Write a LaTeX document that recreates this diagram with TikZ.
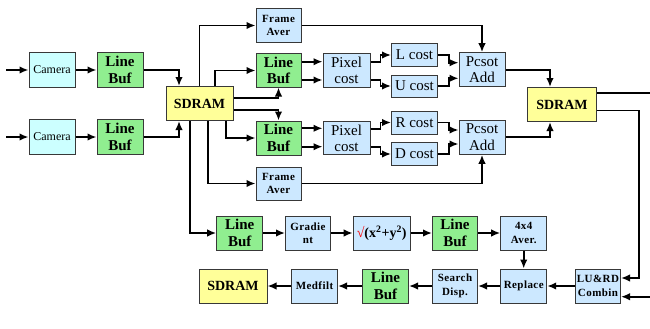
\documentclass[tikz,border=0pt]{standalone}
\usepackage{fontspec}
\setmainfont{Liberation Serif}
\usetikzlibrary{arrows.meta}
\definecolor{cyanfill}{HTML}{CCFFFF}
\definecolor{greenfill}{HTML}{90EE90}
\definecolor{bluefill}{HTML}{CCE8FF}
\definecolor{yellowfill}{HTML}{FFFF99}
\definecolor{boxline}{HTML}{383838}
\newcommand{\bigtxt}{\fontsize{15}{16.5}\selectfont}
\newcommand{\smalltxt}{\fontsize{11}{13.5}\selectfont\bfseries\addfontfeature{LetterSpace=4}}
\begin{document}
\begin{tikzpicture}[x=1pt,y=-1pt,
  box/.style={draw=boxline, line width=1pt, rectangle, inner sep=0pt, align=center},
  cam/.style={box, fill=cyanfill, minimum width=46pt, minimum height=35pt, font=\fontsize{12}{14}\selectfont},
  lbuf/.style={box, fill=greenfill, minimum width=46pt, minimum height=34pt, font=\bigtxt\bfseries},
  sdram/.style={box, fill=yellowfill, minimum width=68pt, minimum height=34pt, font=\fontsize{14}{16}\selectfont\bfseries},
  small/.style={box, fill=bluefill, minimum width=45pt, minimum height=34pt, font=\smalltxt},
  bigb/.style={box, fill=bluefill, minimum width=46pt, minimum height=34pt, font=\bigtxt},
  cost/.style={box, fill=bluefill, minimum width=46pt, minimum height=23pt, font=\bigtxt},
  arr/.style={line width=1.7pt, -{Latex[length=9pt,width=7.5pt]}},
  ln/.style={line width=1.7pt}]
\useasboundingbox (0,0) rectangle (650,329);

% nodes
\node[cam] (cam1) at (52,70) {Camera};
\node[cam] (cam2) at (52,137) {Camera};
\node[lbuf, minimum height=35pt] (lb1) at (120,70) {Line\\Buf};
\node[lbuf, minimum height=35pt] (lb2) at (120,137) {Line\\Buf};
\node[sdram, minimum width=67pt] (sd1) at (199.5,103.5) {SDRAM};
\node[small] (fa1) at (278.5,25.5) {Frame\\Aver};
\node[lbuf, minimum width=45pt, minimum height=33pt] (lb3) at (278.5,70.5) {Line\\Buf};
\node[lbuf, minimum width=45pt] (lb4) at (278.5,138) {Line\\Buf};
\node[small, minimum height=33pt] (fa2) at (278.5,183.5) {Frame\\Aver};
\node[bigb, minimum width=47pt, minimum height=33pt] (pc1) at (346.5,70.5) {Pixel\\cost};
\node[bigb, minimum width=47pt, minimum height=33pt] (pc2) at (346.5,138.3) {Pixel\\cost};
\node[cost] (lc) at (414.5,55) {L cost};
\node[cost, minimum height=22pt] (uc) at (414.5,86) {U cost};
\node[cost] (rc) at (414.5,122.5) {R cost};
\node[cost] (dc) at (414.5,154) {D cost};
\node[bigb] (pa1) at (482,69.7) {Pcsot\\Add};
\node[bigb] (pa2) at (482,137.3) {Pcsot\\Add};
\node[sdram, minimum width=69pt] (sd2) at (562,104.5) {SDRAM};
\node[lbuf] (lb5) at (239.7,233) {Line\\Buf};
\node[small] (gr) at (308,233) {Gradie\\nt};
\node[bigb, minimum width=57pt, font=\fontsize{14}{16}\selectfont\bfseries] (sq) at (381.7,233) {\textcolor{red}{\mdseries √}(x\textsuperscript{2}+y\textsuperscript{2})};
\node[lbuf, minimum width=45pt] (lb6) at (455,233) {Line\\Buf};
\node[small, minimum width=46pt] (av) at (523.7,233) {4x4\\Aver.};
\node[sdram] (sd3) at (233,286) {SDRAM};
\node[small, minimum width=46pt] (mf) at (314.5,286) {Medfilt};
\node[lbuf] (lb7) at (385.5,286) {Line\\Buf};
\node[small] (sdisp) at (455,286) {Search\\Disp.};
\node[small, minimum width=46pt] (rep) at (523.7,286) {Replace};
\node[small] (lurd) at (598,286) {LU\&RD\\Combin};

\coordinate (in1) at (6,70);
\coordinate (in2) at (6,137);
\coordinate (out1) at (650,92.7);
\coordinate (in3) at (650,296.7);

% inputs
\draw[arr] (in1) -- (cam1);
\draw[arr] (in2) -- (cam2);
\draw[arr] (cam1) -- (lb1);
\draw[arr] (cam2) -- (lb2);
\draw[arr] (lb1) -| ([xshift=-20.5pt]sd1.north);
\draw[arr] (lb2) -| ([xshift=-20.5pt]sd1.south);

% SDRAM 1 outputs
\draw[arr] (sd1.north) |- (fa1);
\draw[arr] ([xshift=15.5pt]sd1.north) |- (lb3);
\draw[arr] ([yshift=5.8pt]sd1.east) -| (lb3.south);
\draw[arr] ([yshift=-6.5pt]sd1.east) -| (lb4.north);
\draw[arr] ([xshift=26.5pt]sd1.south) |- (lb4);
\draw[arr] ([xshift=8.5pt]sd1.south) |- (fa2);
\draw[arr] ([xshift=-9.5pt]sd1.south) |- (lb5);

% line buffers to pixel cost
\draw[arr] ([yshift=8.8pt]lb3.east) -- ([yshift=8.8pt]lb3.east -| pc1.west);
\draw[arr] ([yshift=-9.5pt]lb3.east) -- ([yshift=-9.5pt]lb3.east -| pc1.west);
\draw[arr] ([yshift=9.7pt]lb4.east) -- ([yshift=9.7pt]lb4.east -| pc2.west);
\draw[arr] ([yshift=-8.7pt]lb4.east) -- ([yshift=-8.7pt]lb4.east -| pc2.west);

% pixel cost to costs
\draw[arr] ([yshift=8.8pt]pc1.east) -- ++(10,0) |- (lc);
\draw[arr] ([yshift=-9.5pt]pc1.east) -- ++(10,0) |- (uc);
\draw[arr] ([yshift=9pt]pc2.east) -- ++(10,0) |- (rc);
\draw[arr] ([yshift=-8.4pt]pc2.east) -- ++(10,0) |- (dc);

% costs to Pcsot Add
\draw[arr] (lc.east) -- ++(11,0) |- ([yshift=7pt]pa1.west);
\draw[arr] (uc.east) -- ++(11,0) |- ([yshift=-8.6pt]pa1.west);
\draw[arr] (rc.east) -- ++(11,0) |- ([yshift=7.3pt]pa2.west);
\draw[arr] (dc.east) -- ++(11,0) |- ([yshift=-6.7pt]pa2.west);

% frame averages
\draw[arr] (fa1) -| (pa1);
\draw[arr] (fa2) -| (pa2);

% to SDRAM 2
\draw[arr] (pa1.east) -| ([xshift=-12pt]sd2.north);
\draw[arr] (pa2.east) -| ([xshift=-12pt]sd2.south);

% SDRAM 2 outputs
\draw[ln] ([yshift=11.8pt]sd2.east) -- (out1);
\draw[arr] ([yshift=-6pt]sd2.east) -- ++(42,0) |- ([yshift=8pt]lurd.east);
\draw[arr] (in3) -- (in3 -| lurd.east);

% lower chain
\draw[arr] (lb5) -- (gr);
\draw[arr] (gr) -- (sq);
\draw[arr] (sq) -- (lb6);
\draw[arr] (lb6) -- (av);
\draw[arr] (av) -- (rep);
\draw[arr] (lurd) -- (rep);
\draw[arr] (rep) -- (sdisp);
\draw[arr] (sdisp) -- (lb7);
\draw[arr] (lb7) -- (mf);
\draw[arr] (mf) -- (sd3);
\end{tikzpicture}
\end{document}
